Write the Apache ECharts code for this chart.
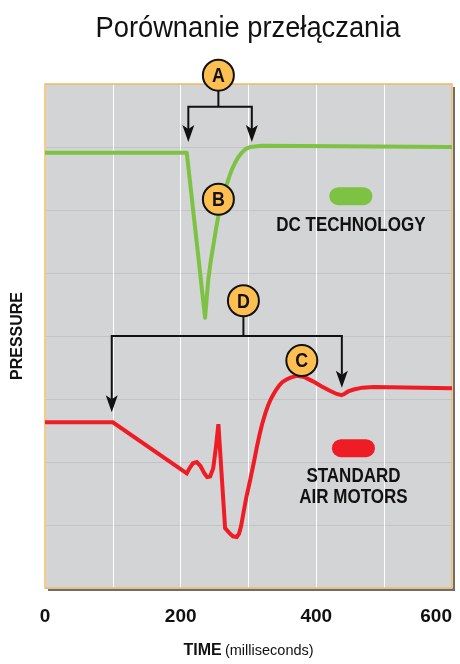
<!doctype html>
<html lang="pl">
<head>
<meta charset="UTF-8">
<title>Porównanie przełączania</title>
<script src="https://cdn.jsdelivr.net/npm/echarts@6/dist/echarts.min.js"></script>
<style>
    html, body { margin: 0; padding: 0; background: #fff; }
    #chart { width: 460px; height: 664px; }
</style>
</head>
<body>
<div id="chart"></div>
<script>
    // os czasu (ms)
    var timeMin = 0, timeMax = 600, timeStep = 100;
    var timeTicks = [0, 200, 400, 600];
    // cisnienie - podzialka umowna
    var pressMin = 0, pressMax = 8;

    // krzywa DC TECHNOLOGY [ms, cisnienie]
    var dcCurve = [
        [0, 6.91], [209, 6.91], [236, 4.29], [238.5, 4.62], [240.9, 4.91], [244.5, 5.2], [248.2, 5.44],
        [252, 5.69], [255.6, 5.91], [259, 6.08], [263, 6.24], [270.4, 6.49], [275, 6.63], [280.2, 6.75],
        [285, 6.84], [290.1, 6.91], [296, 6.97], [302.4, 7.0], [320, 7.02], [600, 7.0]
    ];
    // krzywa STANDARD AIR MOTORS [ms, cisnienie]
    var airCurve = [
        [0, 2.63], [100, 2.63], [209, 1.82], [213, 1.9], [218, 1.98], [223.7, 2.0], [229, 1.94],
        [235, 1.82], [239, 1.76], [243.4, 1.77], [248, 1.9], [252, 2.24], [255.6, 2.6], [265.5, 0.95],
        [272, 0.87], [277, 0.82], [282.7, 0.81], [286, 0.86], [289, 0.98], [292.5, 1.19], [297, 1.45],
        [302.4, 1.71], [308, 2.0], [312, 2.22], [316, 2.42], [320, 2.6], [325, 2.78], [329, 2.9],
        [333, 3.0], [337, 3.08], [341, 3.15], [345, 3.21], [350, 3.27], [356, 3.31], [362, 3.34],
        [372, 3.37], [382, 3.35], [395, 3.28], [408, 3.2], [420, 3.13], [430, 3.08], [437, 3.06],
        [441, 3.08], [447, 3.12], [455, 3.15], [468, 3.18], [485, 3.19], [600, 3.17]
    ];

    // oznaczenia literowe
    var markerLetters = ['A', 'B', 'C', 'D'];
    var markerPos = [[255.6, 8.14], [255.6, 6.17], [378.6, 3.61], [292.5, 4.56]];

    // klamry ze strzalkami: [tKolka, vKolka, vBelki, tLewa, tPrawa, vGrotL, vGrotP]
    var bracketA = [255.6, 8.14, 7.64, 211.3, 304.9, 7.08, 7.08];
    var bracketD = [292.5, 4.56, 4.0, 98.4, 437.6, 2.79, 3.18];

    // legenda: [t, vPastylki, vTekstu]
    var legendNames = ['DC TECHNOLOGY', 'STANDARD\nAIR MOTORS'];
    var legendPos = [[450.9, 6.22, 5.75], [454.7, 2.22, 1.61]];

    var green = '#7dc243', red = '#ee1c25', badge = '#fdbe52', ink = '#111111';
    var fontC = '"Liberation Sans", Arial, sans-serif';
    var narrow = 0.85;

    var myChart = echarts.init(document.getElementById('chart'));

    //ramka wykresu
    var renderFrame = function (params, api) {
        var a = api.coord([api.value(0), api.value(1)]);
        var b = api.coord([api.value(2), api.value(3)]);
        return {
            type: 'rect',
            shape: { x: a[0], y: a[1], width: b[0] - a[0], height: b[1] - a[1] },
            style: { fill: null, stroke: '#f2bb60', lineWidth: 1.5 }
        };
    };

    //klamry
    var renderBracket = function (params, api) {
        var stem = api.coord([api.value(0), api.value(1)]);
        var barL = api.coord([api.value(3), api.value(2)]);
        var barR = api.coord([api.value(4), api.value(2)]);
        var tipL = api.coord([api.value(3), api.value(5)]);
        var tipR = api.coord([api.value(4), api.value(6)]);
        var ah = 17, aw = 6;
        var head = function (p) {
            return {
                type: 'polygon',
                shape: { points: [[p[0] - aw, p[1] - ah], [p[0], p[1] - ah + 4], [p[0] + aw, p[1] - ah], [p[0], p[1]]] },
                style: { fill: ink }
            };
        };
        return {
            type: 'group',
            children: [
                {
                    type: 'polyline',
                    shape: { points: [[tipL[0], tipL[1] - ah + 4], barL, barR, [tipR[0], tipR[1] - ah + 4]] },
                    style: { stroke: ink, lineWidth: 2, fill: null }
                },
                {
                    type: 'line',
                    shape: { x1: stem[0], y1: stem[1], x2: stem[0], y2: barL[1] },
                    style: { stroke: ink, lineWidth: 2 }
                },
                head(tipL),
                head(tipR)
            ]
        };
    };

    //kolka z literami
    var renderBadge = function (params, api) {
        var c = api.coord([api.value(0), api.value(1)]);
        return {
            type: 'group',
            children: [
                {
                    type: 'circle',
                    shape: { cx: c[0], cy: c[1], r: 15.5 },
                    style: { fill: badge, stroke: ink, lineWidth: 2 }
                },
                {
                    type: 'text',
                    x: c[0], y: c[1] + 1, scaleX: narrow,
                    style: {
                        text: markerLetters[params.dataIndex], fill: ink,
                        font: 'bold 21px ' + fontC, align: 'center', verticalAlign: 'middle'
                    }
                }
            ]
        };
    };

    //legenda
    var renderLegend = function (params, api) {
        var p = api.coord([api.value(0), api.value(1)]);
        var t = api.coord([api.value(0), api.value(2)]);
        return {
            type: 'group',
            children: [
                {
                    type: 'rect',
                    shape: { x: p[0] - 21.5, y: p[1] - 9, width: 43, height: 18, r: 9 },
                    style: { fill: params.dataIndex === 0 ? green : red }
                },
                {
                    type: 'text',
                    x: t[0], y: t[1], scaleX: narrow,
                    style: {
                        text: legendNames[params.dataIndex], fill: ink, lineHeight: 21,
                        font: 'bold 20px ' + fontC, align: 'center', verticalAlign: 'middle'
                    }
                }
            ]
        };
    };

    var option = {
        animation: false,
        graphic: [{
            type: 'text', x: 248, y: 29, scaleX: 0.91, silent: true,
            style: {
                text: 'Porównanie przełączania', fill: ink,
                font: '30px ' + fontC, align: 'center', verticalAlign: 'middle'
            }
        }],
        grid: {
            left: 45, right: 8, top: 84, bottom: 72,
            show: true, backgroundColor: '#d3d4d6', borderWidth: 0,
            shadowColor: '#6d6e70', shadowBlur: 0, shadowOffsetX: 3, shadowOffsetY: 3
        },
        xAxis: {
            type: 'value', min: timeMin, max: timeMax, interval: timeStep,
            name: '{b|TIME} {n|(milliseconds)}',
            nameLocation: 'middle', nameGap: 55,
            nameTextStyle: {
                rich: {
                    b: { fontFamily: fontC, fontWeight: 'bold', fontSize: 16, color: ink },
                    n: { fontFamily: fontC, fontSize: 14.5, color: ink }
                }
            },
            axisLine: { show: false }, axisTick: { show: false },
            axisLabel: {
                margin: 19, color: ink, fontFamily: fontC, fontWeight: 'bold', fontSize: 19,
                alignMaxLabel: 'right',
                formatter: function (v) { return timeTicks.indexOf(v) >= 0 ? String(v) : ''; }
            },
            splitLine: { lineStyle: { color: '#ffffff', width: 1 } }
        },
        yAxis: {
            type: 'value', min: pressMin, max: pressMax, interval: 1,
            name: 'PRESSURE', nameLocation: 'middle', nameGap: 19, nameRotate: 90,
            nameTextStyle: { fontFamily: fontC, fontWeight: 'bold', fontSize: 16, color: ink },
            axisLine: { show: false }, axisTick: { show: false }, axisLabel: { show: false },
            splitLine: { lineStyle: { color: '#c3c4c6', width: 1 } }
        },
        series: [
            {
                type: 'custom', renderItem: renderFrame, data: [[timeMin, pressMax, timeMax, pressMin]],
                silent: true, clip: false, z: 1
            },
            {
                type: 'line', data: dcCurve, showSymbol: false, silent: true,
                lineStyle: { color: green, width: 4, join: 'round' }, z: 2
            },
            {
                type: 'line', data: airCurve, showSymbol: false, silent: true,
                lineStyle: { color: red, width: 4, join: 'miter' }, z: 2
            },
            {
                type: 'custom', renderItem: renderBracket, data: [bracketA, bracketD],
                silent: true, clip: false, z: 3
            },
            {
                type: 'custom', renderItem: renderBadge, data: markerPos,
                silent: true, clip: false, z: 4
            },
            {
                type: 'custom', renderItem: renderLegend, data: legendPos,
                silent: true, clip: false, z: 4
            }
        ]
    };
    myChart.setOption(option);
</script>
</body>
</html>
